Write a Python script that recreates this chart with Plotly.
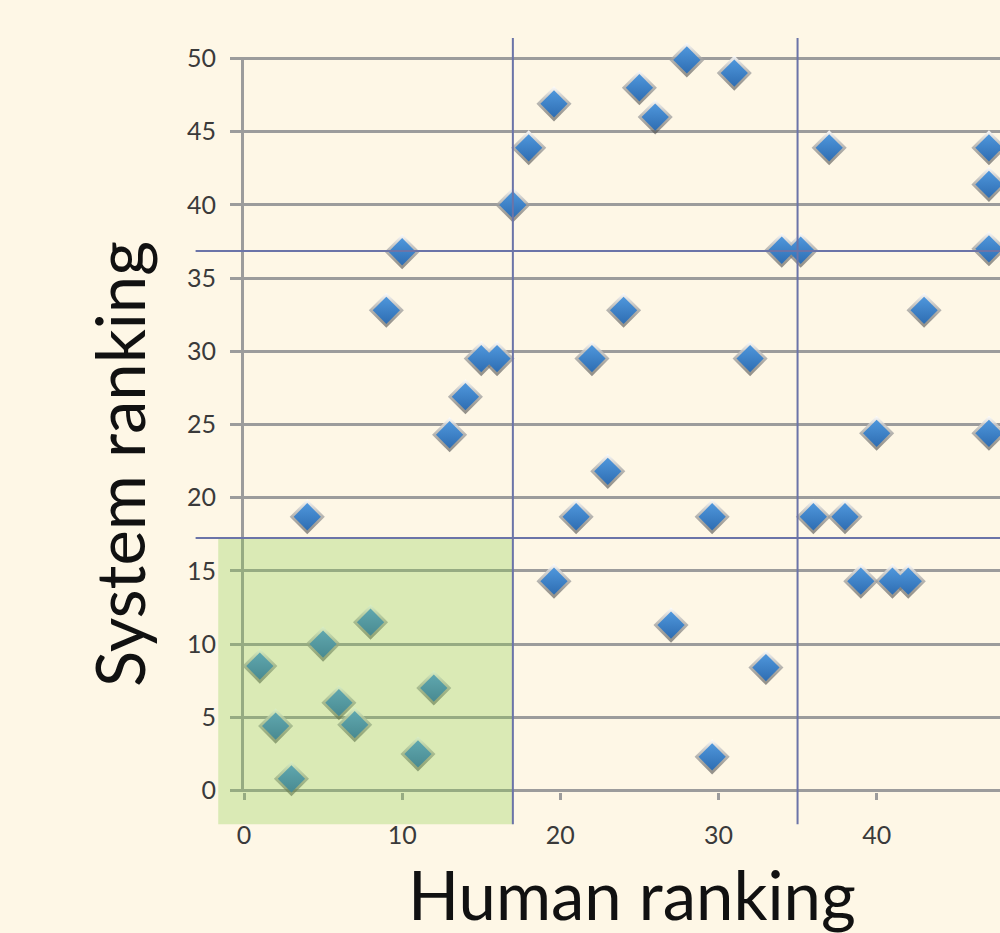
import plotly.graph_objects as go

# ---- data ----
human_rank = [1, 2, 3, 4, 5, 6, 7, 8, 9, 10, 11, 12, 13, 14, 15, 16, 17, 18,
              19.6, 19.6, 21, 22, 23, 24, 25, 26, 27, 28, 29.6, 29.6, 31, 32,
              33, 34, 35.2, 36, 37, 38, 39, 40, 41, 42, 43, 47.1, 47.1, 47.1, 47.1]
system_rank = [8.5, 4.4, 0.8, 18.7, 10, 6, 4.5, 11.5, 32.8, 36.8, 2.5, 7, 24.3,
               26.9, 29.5, 29.5, 40, 43.9, 46.9, 14.3, 18.7, 29.5, 21.8, 32.8,
               48, 46, 11.3, 49.9, 18.7, 2.3, 49, 29.5, 8.4, 36.9, 36.9, 18.7,
               43.9, 18.7, 14.3, 24.4, 14.3, 14.3, 32.8, 43.9, 41.4, 37, 24.4]
x_ticks = [0, 10, 20, 30, 40]
y_ticks = [0, 5, 10, 15, 20, 25, 30, 35, 40, 45, 50]
human_cuts = [17, 35]
system_cuts = [17.25, 36.85]
# green "agreement" region (human/system low ranks)
region_x = [-1.63, 17]
region_y = [-2.3, 17.25]

# ---- layout geometry ----
W, H = 1000, 933
L, R, T, B = 244, 0, 56.5, 140.5
XR = [0, 47.8]
YR = [-0.1, 50.1]
PW = W - L - R
PH = H - T - B


def xp(v):
    return (v - XR[0]) / (XR[1] - XR[0])


def yp(v):
    return (v - YR[0]) / (YR[1] - YR[0])


def pxx(px):
    return (px - L) / PW


def pxy(py):
    return (H - B - py) / PH


BG = "#FEF7E6"
GRID = "#9c9c9c"
BLUE_LINE = "#6b74a8"

fig = go.Figure()

# soft halo / shadow behind markers
fig.add_trace(go.Scatter(
    x=human_rank, y=system_rank, mode="markers", hoverinfo="skip",
    cliponaxis=False, showlegend=False,
    marker=dict(symbol="diamond", size=27,
                color="rgba(255,255,255,0.95)",
                gradient=dict(type="vertical", color="rgba(60,60,60,0.55)"),
                line=dict(width=0)),
))
fig.add_trace(go.Scatter(
    x=human_rank, y=system_rank, mode="markers", cliponaxis=False,
    showlegend=False,
    marker=dict(symbol="diamond", size=21, color="#4F97DC",
                gradient=dict(type="vertical", color="#2E6DB2"),
                line=dict(width=0)),
))

shapes = []
# green region overlay
shapes.append(dict(type="rect", xref="paper", yref="paper",
                   x0=xp(region_x[0]), x1=xp(region_x[1]),
                   y0=yp(region_y[0]), y1=yp(region_y[1]),
                   fillcolor="rgba(135,205,70,0.30)", line=dict(width=0),
                   layer="above"))
# cut lines
for hc in human_cuts:
    shapes.append(dict(type="line", xref="x", yref="paper", x0=hc, x1=hc,
                       y0=yp(-2.3), y1=yp(51.4),
                       line=dict(color=BLUE_LINE, width=2), layer="above"))
for sc in system_cuts:
    shapes.append(dict(type="line", xref="paper", yref="y", x0=xp(-3.06), x1=1,
                       y0=sc, y1=sc,
                       line=dict(color=BLUE_LINE, width=2), layer="above"))

tickfont = dict(family="Lato, 'Open Sans', sans-serif", size=25, color="#3a3a3a")
titlefont = dict(family="Lato, 'Open Sans', sans-serif", size=67, color="#111111")

fig.update_layout(
    width=W, height=H,
    margin=dict(l=L, r=R, t=T, b=B, pad=0),
    paper_bgcolor=BG, plot_bgcolor=BG,
    shapes=shapes,
    annotations=[
        dict(text="Human ranking", xref="paper", yref="paper",
             x=pxx(631.5), y=pxy(895), xanchor="center", yanchor="middle",
             showarrow=False, font=titlefont),
        dict(text="System ranking", xref="paper", yref="paper",
             x=pxx(119), y=pxy(464), xanchor="center", yanchor="middle",
             textangle=-90, showarrow=False, font=titlefont),
    ],
    xaxis=dict(range=XR, tickvals=x_ticks, ticktext=[str(v) for v in x_ticks],
               showgrid=False, zeroline=False, showline=False,
               ticks="outside", ticklen=7, tickwidth=3, tickcolor=GRID,
               tickfont=tickfont, ticklabelstandoff=14),
    yaxis=dict(range=YR, tickvals=y_ticks, ticktext=[str(v) for v in y_ticks],
               showgrid=True, gridcolor=GRID, gridwidth=2.5,
               zeroline=False, showline=True, linecolor=GRID, linewidth=3,
               ticks="outside", ticklen=11, tickwidth=2.5, tickcolor=GRID,
               tickfont=tickfont, ticklabelstandoff=9),
)

fig.write_html(
    "out.html",
    config={"displayModeBar": False},
    post_script="document.body.style.margin='0';document.body.style.padding='0';"
                "document.body.style.overflow='hidden';"
                "document.body.style.background='" + BG + "';",
)
